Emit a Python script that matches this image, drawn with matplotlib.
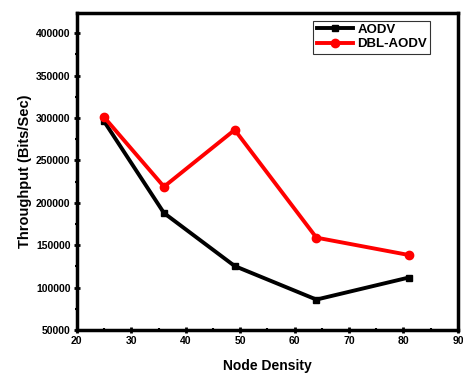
import matplotlib
matplotlib.use("Agg")
import matplotlib.pyplot as plt
from matplotlib.ticker import MultipleLocator

plt.rcParams['font.family'] = ['Liberation Sans', 'DejaVu Sans']
plt.rcParams['font.weight'] = 'bold'

# data
node_density = [25, 36, 49, 64, 81]
aodv = [296000, 188000, 125500, 86000, 112000]
dbl_aodv = [301000, 219000, 286000, 159000, 138500]

fig = plt.figure(figsize=(4.63, 3.76), dpi=100)
ax = fig.add_axes([0.166, 0.122, 0.823, 0.843])

ax.plot(node_density, aodv, color='black', marker='s', markersize=4.5,
        linewidth=2.8, label='AODV')
ax.plot(node_density, dbl_aodv, color='red', marker='o', markersize=6,
        linewidth=2.8, label='DBL-AODV')

ax.set_xlim(20, 90)
ax.set_ylim(50000, 423500)
ax.xaxis.set_major_locator(MultipleLocator(10))
ax.xaxis.set_minor_locator(MultipleLocator(5))
ax.yaxis.set_major_locator(MultipleLocator(50000))
ax.yaxis.set_minor_locator(MultipleLocator(25000))

for s in ax.spines.values():
    s.set_linewidth(2.5)

ax.tick_params(which='major', direction='inout', length=5, width=2,
               labelsize=7.5, pad=2)
ax.tick_params(which='minor', direction='inout', length=3, width=1.5)
for lbl in ax.get_xticklabels() + ax.get_yticklabels():
    lbl.set_fontweight('bold')

ax.set_xlabel('Node Density', fontsize=10, fontweight='bold', labelpad=9)
ax.set_ylabel('Throughput (Bits/Sec)', fontsize=10.5, fontweight='bold', labelpad=3)

leg = ax.legend(loc='upper right', bbox_to_anchor=(0.935, 0.985), fontsize=9.5,
                frameon=True, fancybox=False, edgecolor='black',
                handlelength=2.8, borderpad=0.25, labelspacing=0.15,
                handletextpad=0.3, borderaxespad=0.2)
leg.get_frame().set_linewidth(0.8)
for t in leg.get_texts():
    t.set_fontweight('bold')

fig.savefig('out.png', dpi=100)
